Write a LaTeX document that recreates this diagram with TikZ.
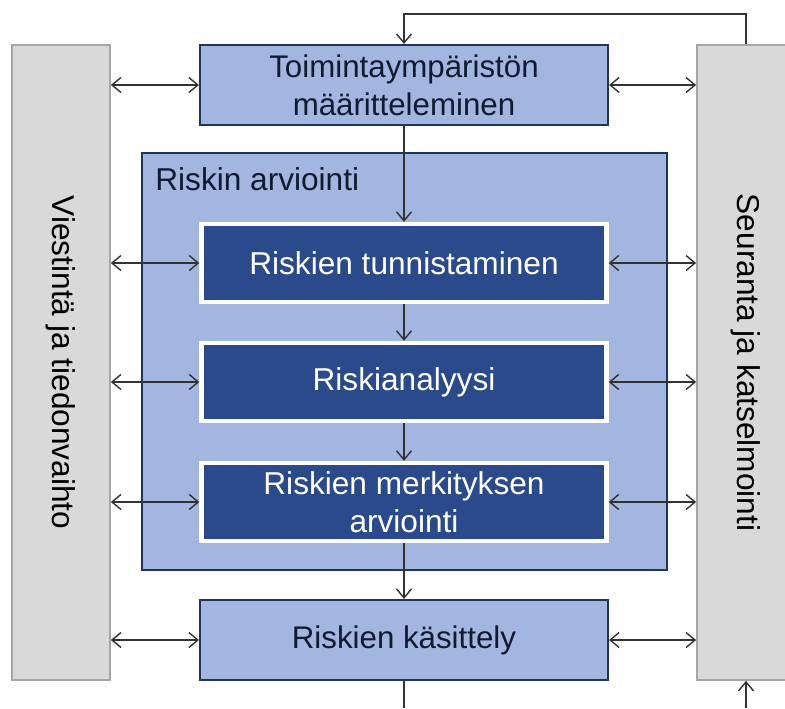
\documentclass[tikz,border=0pt]{standalone}
\usepackage{fontspec}
\setmainfont{Liberation Sans}
\usetikzlibrary{arrows.meta}

\definecolor{barfill}{HTML}{D9D9D9}
\definecolor{bardraw}{HTML}{A6A6A6}
\definecolor{lightblue}{HTML}{A3B6E0}
\definecolor{darkblue}{HTML}{2B4A8B}
\definecolor{navy}{HTML}{1F3461}
\definecolor{linegrey}{HTML}{333333}

\tikzset{
  bar/.style={draw=bardraw, fill=barfill, line width=1pt, minimum width=1.96cm, minimum height=12.7cm},
  bartext/.style={rotate=-90, font=\fontsize{18}{21.6}\selectfont},
  outerbox/.style={draw=navy, fill=lightblue, line width=1.2pt, minimum width=10.5cm, minimum height=8.34cm},
  lightbox/.style={draw=navy, fill=lightblue, line width=1.2pt, minimum width=8.16cm, minimum height=1.6cm,
    align=center, font=\fontsize{17.8}{21.6}\selectfont, text=navy!50!black},
  darkbox/.style={draw=white, fill=darkblue, line width=2.5pt, minimum width=8.1cm, minimum height=1.56cm,
    align=center, font=\fontsize{18}{21.6}\selectfont, text=white},
  flow/.style={-{Straight Barb[length=1.8mm,width=3mm]}, linegrey, line width=0.8pt},
  link/.style={{Straight Barb[length=1.8mm,width=3mm]}-{Straight Barb[length=1.8mm,width=3mm]}, linegrey, line width=0.8pt}
}

\begin{document}
\begin{tikzpicture}[x=0.02cm, y=-0.02cm]
    \useasboundingbox (0,0) rectangle (785,708);
    \clip (0,0) rectangle (785,708);

    % sivupalkit
    \node[bar] (viest) at (61,362.5) {};
    \node[bartext] (viesttxt) at (viest) {Viestintä ja tiedonvaihto};
    \node[bar] (seur) at (746,362.5) {};
    \node[bartext] (seurtxt) at (seur) {Seuranta ja katselmointi};

    % riskin arviointi
    \node[outerbox] (arv) at (404.5,361.5) {};
    \node[anchor=north west, font=\fontsize{18}{21.6}\selectfont, text=navy!50!black, inner sep=0pt]
        (arvtxt) at (155,167) {Riskin arviointi};

    \node[lightbox] (toim) at (404,85) {Toimintaympäristön\\määritteleminen};
    \node[darkbox] (tunn) at (404,263) {Riskien tunnistaminen};
    \node[darkbox] (anal) at (404,382) {Riskianalyysi};
    \node[darkbox] (merk) at (404,502) {Riskien merkityksen\\arviointi};
    \node[lightbox] (kas) at (404,640) {Riskien käsittely};

    % kulku
    \draw[flow] (toim) -- (tunn);
    \draw[flow] (tunn) -- (anal);
    \draw[flow] (anal) -- (merk);
    \draw[flow] (merk) -- (kas);

    \foreach \b in {toim,tunn,anal,merk,kas} {
        \draw[link] (viest.east |- \b.west) -- (\b.west);
        \draw[link] (\b.east) -- (seur.west |- \b.east);
    }

    % palaute ylhaalla ja alhaalla
    \coordinate (fb) at (746,14);
    \draw[flow] (seur.north) -- (fb) -| (toim.north);
    \coordinate (out) at (404,708);
    \draw[linegrey, line width=0.8pt] (kas.south) -- (out);
    \coordinate (in) at (746,708);
    \draw[flow] (in) -- (seur.south);
\end{tikzpicture}
\end{document}
